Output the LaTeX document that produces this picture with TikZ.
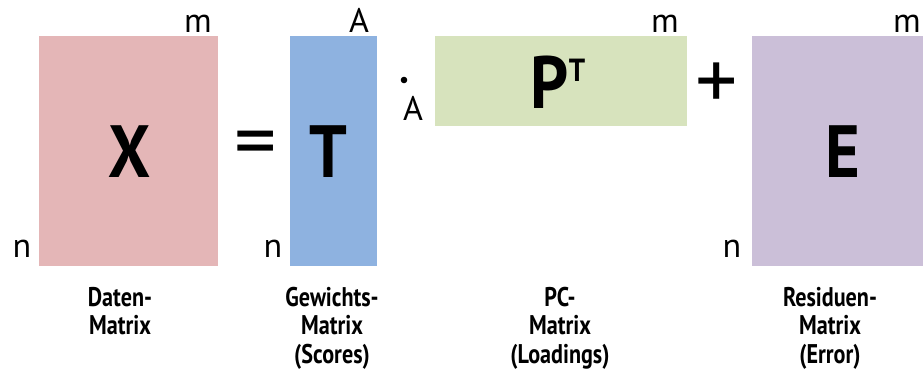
\documentclass[tikz,border=0pt]{standalone}
\usepackage{fontspec}
\setmainfont{PT Sans}
\newfontfamily\capfont[FakeStretch=0.82]{PT Sans}
\newfontfamily\bigfont[FakeStretch=0.9]{PT Sans}
\definecolor{xcol}{HTML}{E4B6B7}
\definecolor{tcol}{HTML}{8EB2E0}
\definecolor{pcol}{HTML}{D7E3BD}
\definecolor{ecol}{HTML}{CBBFD8}
\begin{document}
\begin{tikzpicture}[x=1pt,y=-1pt,
  mat/.style={draw=none,inner sep=0pt,anchor=north west},
  big/.style={font=\fontsize{74}{74}\selectfont\bigfont\bfseries,inner sep=0pt},
  dim/.style={font=\fontsize{34}{34}\selectfont,inner sep=0pt},
  op/.style={font=\fontsize{84}{84}\selectfont,inner sep=0pt},
  captxt/.style={font=\fontsize{27}{28.5}\selectfont\capfont\bfseries,align=center,inner sep=0pt,anchor=north}]
\useasboundingbox (0,0) rectangle (923,372);
% matrices
\node[mat,fill=xcol,minimum width=179pt,minimum height=230pt] (X) at (39,36) {};
\node[mat,fill=tcol,minimum width=87pt,minimum height=230pt] (T) at (290,36) {};
\node[mat,fill=pcol,minimum width=252pt,minimum height=90pt] (P) at (435,36) {};
\node[mat,fill=ecol,minimum width=171pt,minimum height=230pt] (E) at (752,36) {};
% letters
\node[big] (Xl) at (130,152) {X};
\node[big] (Tl) at (328,152) {T};
\node[big,anchor=base] (Pl) at (558,108) {P\raisebox{0.36em}{\fontsize{32}{32}\selectfont T}};
\node[big] (El) at (843,152) {E};
% operators
\node[op] (eq) at (256,150) {=};
\node[op] (plus) at (717,86) {+};
\fill (404,80) circle (3.3pt) coordinate (dot);
% dimensions
\node[dim,anchor=base] (Xm) at (198,32) {m};
\node[dim,anchor=base] (Xn) at (22,257) {n};
\node[dim,anchor=base] (TA) at (359,32) {A};
\node[dim,anchor=base] (Tn) at (273,257) {n};
\node[dim,anchor=base] (PA) at (413,120) {A};
\node[dim,anchor=base] (Pm) at (665,32) {m};
\node[dim,anchor=base] (En) at (732,257) {n};
\node[dim,anchor=base] (Em) at (907,32) {m};
% captions
\node[captxt] (cX) at (120,287) {Daten-\\Matrix};
\node[captxt] (cT) at (332,287) {Gewichts-\\Matrix\\(Scores)};
\node[captxt] (cP) at (560,287) {PC-\\Matrix\\(Loadings)};
\node[captxt] (cE) at (830,287) {Residuen-\\Matrix\\(Error)};
\end{tikzpicture}
\end{document}
